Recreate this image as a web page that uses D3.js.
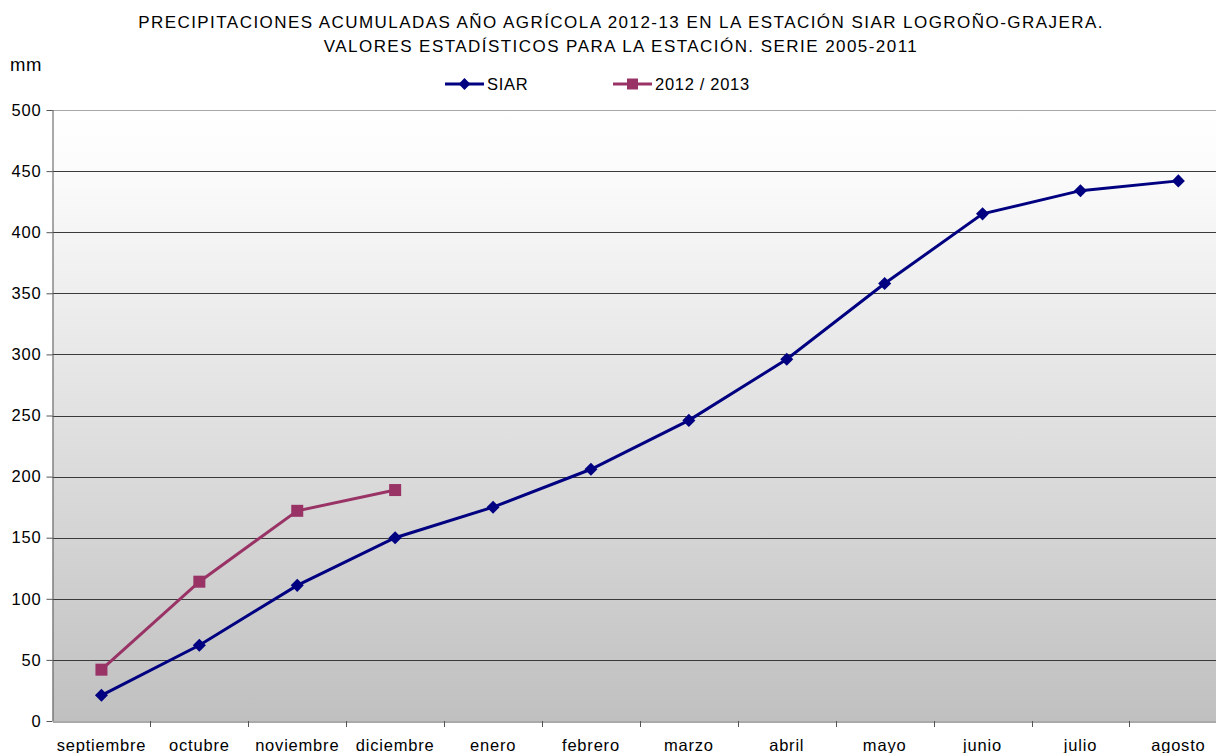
<!DOCTYPE html>
<html><head><meta charset="utf-8">
<script src="https://cdn.jsdelivr.net/npm/d3@7"></script>
<style>body{margin:0;background:#fff}svg{display:block}</style>
</head><body><svg id="c" width="1216" height="753"></svg>
<script>
const months = ["septiembre","octubre","noviembre","diciembre","enero","febrero","marzo","abril","mayo","junio","julio","agosto"];
const siar = [21,62,111,150,175,206,246,296,358,415,434,442];
const cur = [42,114,172,189];
const yTicks = [0,50,100,150,200,250,300,350,400,450,500];
const titleLines = ["PRECIPITACIONES ACUMULADAS AÑO AGRÍCOLA 2012-13 EN LA ESTACIÓN SIAR LOGROÑO-GRAJERA.","VALORES ESTADÍSTICOS PARA LA ESTACIÓN. SERIE 2005-2011"];
const seriesNames = ["SIAR","2012 / 2013"];

const FF = "Liberation Sans, Arial, sans-serif";
const svg = d3.select("#c");
const L = 52.5, T = 110, B = 721, R = 52.5 + 12*97.9;
const x = d3.scaleBand().domain(months).range([L, R]);
const y = d3.scaleLinear().domain([0,500]).range([B, T]);

const defs = svg.append("defs");
const g = defs.append("linearGradient").attr("id","bg").attr("x1",0).attr("y1",0).attr("x2",0).attr("y2",1);
g.append("stop").attr("offset","0").attr("stop-color","#ffffff");
g.append("stop").attr("offset","0.12").attr("stop-color","#fafafa");
g.append("stop").attr("offset","1").attr("stop-color","#c0c0c0");
svg.append("rect").attr("x",L).attr("y",T).attr("width",R-L).attr("height",B-T).attr("fill","url(#bg)");

// gridlines
svg.append("g").selectAll("line").data(yTicks.filter(d=>d>0)).join("line")
  .attr("x1",L).attr("x2",R).attr("y1",d=>Math.round(y(d))+0.5).attr("y2",d=>Math.round(y(d))+0.5)
  .attr("stroke",d=>d===500?"#a8a8a8":"#3a3a3a").attr("stroke-width",1);

// y axis
const ya = svg.append("g").attr("transform",`translate(${L},0)`)
  .call(d3.axisLeft(y).tickValues(yTicks).tickSize(6).tickPadding(5));
ya.select(".domain").attr("stroke","#555").attr("d",`M0.5,${T}V${B}`);
ya.selectAll(".tick line").attr("stroke","#555");
ya.selectAll("text").attr("font-size",16.5).attr("letter-spacing","0.8px").attr("font-family",FF).attr("fill","#000");

// x axis
const xa = svg.append("g").attr("transform",`translate(0,${B+0.5})`)
  .call(d3.axisBottom(x).tickSize(0).tickPadding(18));
xa.select(".domain").attr("stroke","#555");
xa.selectAll("text").attr("font-size",16.5).attr("letter-spacing","0.8px").attr("font-family",FF).attr("fill","#000");
svg.append("g").selectAll("line").data(months.slice(1)).join("line")
  .attr("x1",d=>Math.round(x(d))+0.5).attr("x2",d=>Math.round(x(d))+0.5).attr("y1",B).attr("y2",B+6).attr("stroke","#555");

const cx = d => x(d) + x.bandwidth()/2;
const line = d3.line().x((d,i)=>cx(months[i])).y(d=>y(d));

svg.append("path").datum(siar).attr("d",line).attr("fill","none").attr("stroke","#000080").attr("stroke-width",3);
svg.append("path").datum(cur).attr("d",line).attr("fill","none").attr("stroke","#993366").attr("stroke-width",3);

svg.append("g").selectAll("path").data(siar).join("path")
  .attr("d",d3.symbol().type(d3.symbolSquare).size(85)())
  .attr("transform",(d,i)=>`translate(${cx(months[i])},${y(d)}) rotate(45)`)
  .attr("fill","#000080");
svg.append("g").selectAll("rect").data(cur).join("rect")
  .attr("x",(d,i)=>cx(months[i])-6).attr("y",d=>y(d)-6).attr("width",12).attr("height",12).attr("fill","#993366");

// title
svg.append("g").selectAll("text").data(titleLines).join("text")
  .attr("x",621).attr("y",(d,i)=>28+i*24).attr("text-anchor","middle")
  .attr("font-family",FF).attr("font-size",17).attr("letter-spacing","1.45px").text(d=>d);
svg.append("text").attr("x",10).attr("y",71).attr("font-family",FF).attr("font-size",18.5).attr("letter-spacing","0.5px").text("mm");

// legend
const leg = [{n:seriesNames[0],c:"#000080",x0:445,t:"d"},{n:seriesNames[1],c:"#993366",x0:613,t:"s"}];
leg.forEach(l=>{
  const gg = svg.append("g");
  gg.append("line").attr("x1",l.x0).attr("x2",l.x0+39).attr("y1",84).attr("y2",84).attr("stroke",l.c).attr("stroke-width",3);
  if(l.t==="d") gg.append("path").attr("d",d3.symbol().type(d3.symbolSquare).size(70)()).attr("transform",`translate(${l.x0+19.5},84) rotate(45)`).attr("fill",l.c);
  else gg.append("rect").attr("x",l.x0+14).attr("y",78.5).attr("width",11).attr("height",11).attr("fill",l.c);
  gg.append("text").attr("x",l.x0+42).attr("y",90).attr("font-family",FF).attr("font-size",16.5).attr("letter-spacing","0.7px").text(l.n);
});
</script></body></html>
